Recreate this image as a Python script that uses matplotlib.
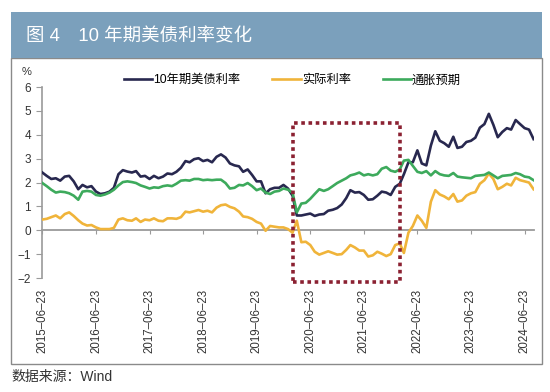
import matplotlib
matplotlib.use('Agg')
import matplotlib.pyplot as plt
import matplotlib.dates as mdates
from matplotlib.patches import Rectangle
import pandas as pd
import datetime as dt

plt.rcParams['font.family'] = ['Liberation Sans', 'Noto Sans CJK SC']

# ---------------- 数据 (月度, 2015-06 ~ 2024-08, 从图中读取) ----------------
dates = pd.date_range('2015-06-23', periods=111, freq=pd.DateOffset(months=1))

us10y = [2.42, 2.28, 2.15, 2.18, 2.08, 2.25, 2.28,
         2.05, 1.72, 1.90, 1.80, 1.85, 1.62, 1.52, 1.55, 1.62, 1.78, 2.35, 2.52,
         2.46, 2.42, 2.48, 2.25, 2.28, 2.15, 2.28, 2.18, 2.25, 2.38, 2.35, 2.45,
         2.62, 2.90, 2.85, 2.98, 3.02, 2.90, 2.95, 2.85, 3.08, 3.18, 3.05, 2.80,
         2.72, 2.68, 2.45, 2.55, 2.32, 2.05, 2.05, 1.55, 1.72, 1.78, 1.78, 1.90,
         1.75, 1.45, 0.62, 0.62, 0.66, 0.70, 0.60, 0.66, 0.68, 0.82, 0.86, 0.93,
         1.08, 1.35, 1.68, 1.58, 1.60, 1.48, 1.28, 1.30, 1.45, 1.62, 1.58, 1.48,
         1.82, 1.95, 2.35, 2.85, 2.85, 3.35, 2.80, 2.72, 3.55, 4.15, 3.75, 3.65,
         3.50, 3.92, 3.45, 3.50, 3.70, 3.75, 3.88, 4.30, 4.45, 4.88, 4.42, 3.90,
         4.12, 4.28, 4.22, 4.62, 4.45, 4.28, 4.22, 3.82]

real_rate = [0.45, 0.48, 0.55, 0.62, 0.50, 0.68, 0.75,
             0.60, 0.42, 0.28, 0.20, 0.22, 0.12, 0.05, 0.05, 0.05, 0.10, 0.45, 0.50,
             0.42, 0.40, 0.50, 0.35, 0.45, 0.42, 0.50, 0.40, 0.38, 0.50, 0.50, 0.48,
             0.55, 0.78, 0.75, 0.80, 0.85, 0.78, 0.82, 0.75, 0.95, 1.05, 1.08, 0.98,
             0.92, 0.78, 0.58, 0.55, 0.48, 0.35, 0.28, -0.02, 0.18, 0.15, 0.12, 0.12,
             0.05, -0.10, 0.40, -0.50, -0.48, -0.62, -0.90, -1.02, -0.95, -0.88, -0.95, -1.02,
             -1.00, -0.82, -0.62, -0.72, -0.85, -0.85, -1.10, -1.05, -0.90, -0.98, -1.08, -1.00,
             -0.62, -0.55, -0.95, -0.10, 0.18, 0.62, 0.40, 0.10, 1.20, 1.68, 1.50, 1.42,
             1.30, 1.52, 1.20, 1.25, 1.45, 1.55, 1.60, 1.95, 2.10, 2.38, 2.15, 1.72,
             1.82, 1.95, 1.88, 2.20, 2.10, 2.05, 2.00, 1.72]

breakeven = [1.98, 1.85, 1.70, 1.58, 1.62, 1.60, 1.55,
             1.45, 1.28, 1.62, 1.65, 1.62, 1.48, 1.45, 1.50, 1.58, 1.70, 1.88, 2.02,
             2.05, 2.02, 1.98, 1.88, 1.82, 1.75, 1.80, 1.78, 1.85, 1.88, 1.85, 1.95,
             2.08, 2.10, 2.08, 2.15, 2.15, 2.10, 2.12, 2.10, 2.12, 2.12, 1.98, 1.75,
             1.78, 1.90, 1.88, 1.98, 1.85, 1.68, 1.75, 1.58, 1.52, 1.62, 1.65, 1.75,
             1.70, 1.58, 0.75, 1.12, 1.15, 1.32, 1.52, 1.72, 1.65, 1.72, 1.85, 1.98,
             2.08, 2.18, 2.30, 2.35, 2.42, 2.30, 2.35, 2.30, 2.35, 2.58, 2.65, 2.50,
             2.45, 2.55, 2.92, 2.95, 2.70, 2.45, 2.40, 2.48, 2.30, 2.48, 2.35, 2.30,
             2.28, 2.40, 2.25, 2.22, 2.20, 2.18, 2.28, 2.30, 2.32, 2.42, 2.30, 2.18,
             2.28, 2.30, 2.32, 2.40, 2.35, 2.25, 2.22, 2.10]

tick_dates = [dt.datetime(y, 6, 23) for y in range(2015, 2025)]
tick_labels = [f'{y}–06–23' for y in range(2015, 2025)]

# 虚线框 (2020-02 ~ 2022-02)
box_start = dt.datetime(2020, 2, 25)
box_end = dt.datetime(2022, 2, 26)
box_low, box_high = -2.18, 4.49

# ---------------- 画图 ----------------
fig = plt.figure(figsize=(5.5, 3.92), dpi=100)

# 白色面板 + 标题栏
fig.patches.append(Rectangle((0.02, 0.0714), 0.9655, 0.7806, transform=fig.transFigure,
                             facecolor='white', edgecolor='#8a8a8a', lw=1, zorder=-5))
fig.patches.append(Rectangle((0.02, 0.852), 0.9655, 0.117, transform=fig.transFigure,
                             facecolor='#7BA0BC', edgecolor='none', zorder=-4))
fig.text(0.047, 0.907, '图 4　10 年期美债利率变化', color='white', fontsize=13.3, va='center')
fig.text(0.02, 1 - 377 / 392, '数据来源：Wind', fontsize=10, color='#333333', va='center')

ax = fig.add_axes([0.0764, 0.2908, 0.8945, 0.487])
ax.patch.set_alpha(0)

ax.plot(dates, us10y, color='#28284F', lw=1.9, label='10年期美债利率', zorder=3)
ax.plot(dates, real_rate, color='#F0B43A', lw=1.9, label='实际利率', zorder=3)
ax.plot(dates, breakeven, color='#3DAA5C', lw=1.9, label='通胀预期', zorder=3)

x0 = mdates.date2num(box_start)
x1 = mdates.date2num(box_end)
ax.add_patch(Rectangle((x0, box_low), x1 - x0, box_high - box_low, fill=False,
                       edgecolor='#8B2132', lw=2.6, linestyle=(0, (1, 1)),
                       clip_on=False, zorder=4))

ax.set_xlim(dt.datetime(2015, 6, 21), dt.datetime(2024, 8, 26))
ax.set_ylim(-2, 6)
ax.set_yticks(range(-2, 7))

for s in ['top', 'right', 'bottom']:
    ax.spines[s].set_visible(False)
ax.spines['left'].set_color('#9a9a9a')
ax.spines['left'].set_linewidth(1.2)
ax.tick_params(axis='y', length=4, color='#9a9a9a', labelsize=8.5,
               labelcolor='#333333', pad=4)

ax.set_xticks(tick_dates)
ax.set_xticklabels(tick_labels, rotation=90, fontsize=8.3, color='#333333')
ax.tick_params(axis='x', length=0, pad=8)

# 零轴 (带刻度)
sec = ax.secondary_xaxis(0.25)
sec.set_ticks(tick_dates)
sec.tick_params(axis='x', length=3, color='#9a9a9a', labelbottom=False)
sec.spines['bottom'].set_color('#9a9a9a')
sec.spines['bottom'].set_linewidth(1.3)

fig.text(27 / 550, 1 - 72 / 392, '%', fontsize=8, ha='center', va='center', color='#333333')

ax.legend(loc='center', bbox_to_anchor=(0.532, 0.795), bbox_transform=fig.transFigure,
          ncol=3, frameon=False, fontsize=8.8, handlelength=2.3, handletextpad=0.1,
          columnspacing=2.6)

fig.savefig('out.png', dpi=100)
